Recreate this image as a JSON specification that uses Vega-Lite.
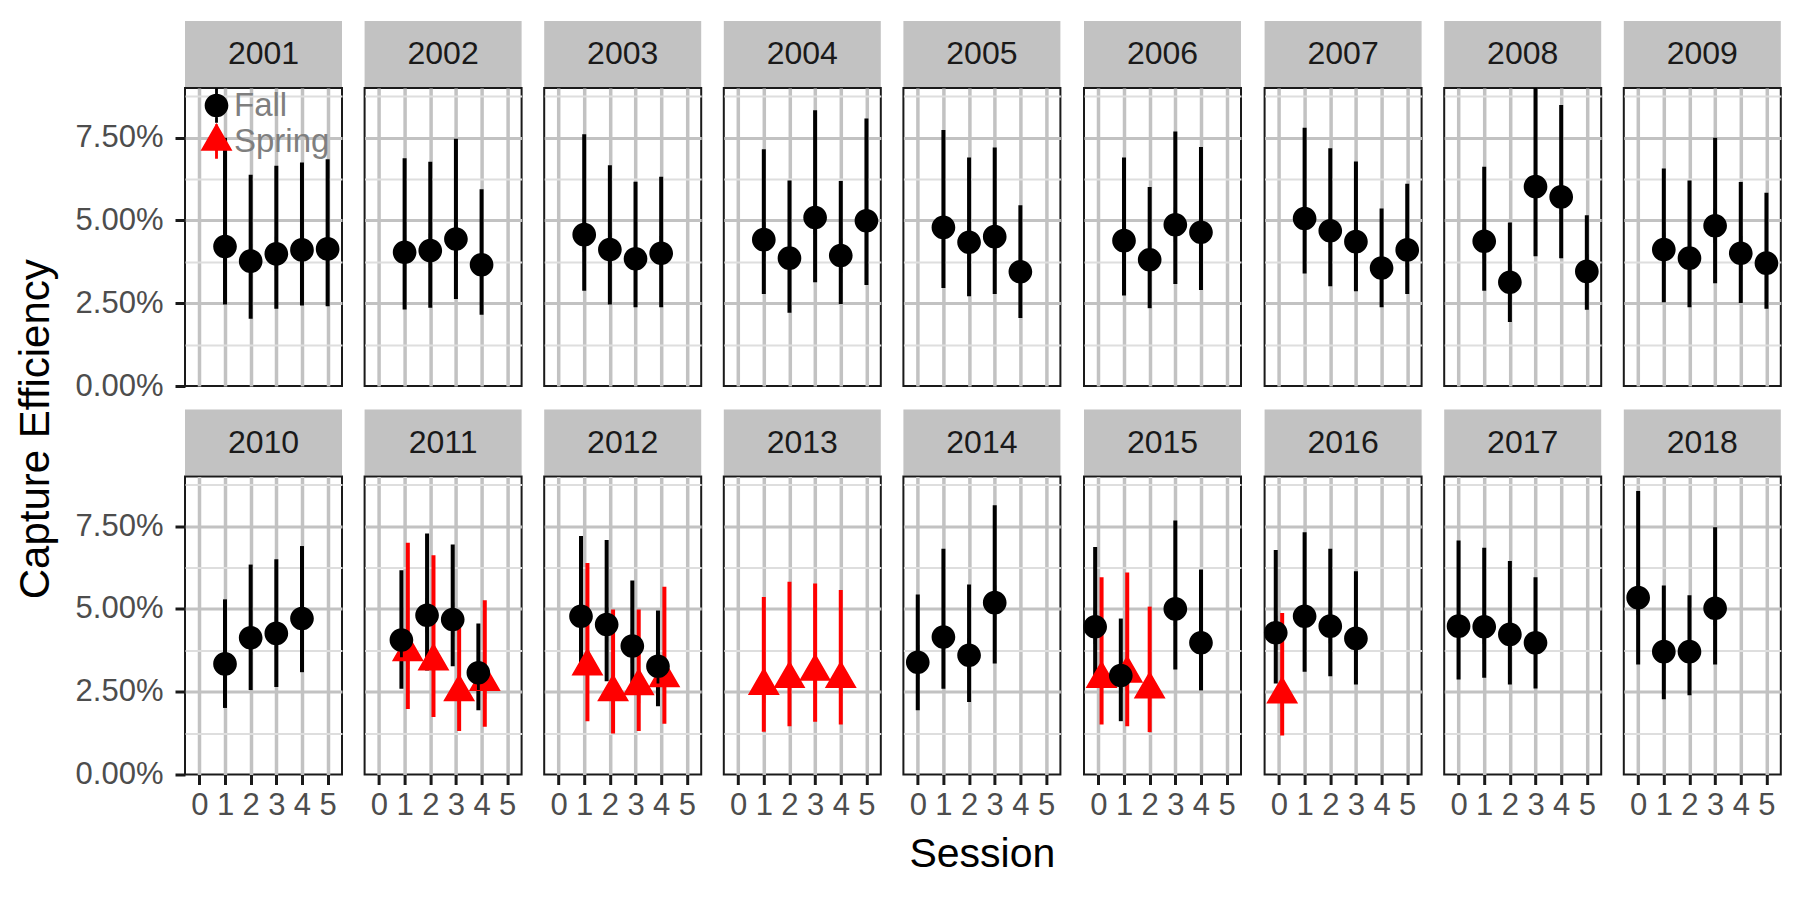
{
"$schema":"https://vega.github.io/schema/vega-lite/v6.json",
"padding":{"left":15,"top":21,"right":5,"bottom":5},
"background":"white",
"title":{"text":"Capture Efficiency","orient":"left","anchor":"middle","fontSize":42,"fontWeight":"normal","color":"#000000","font":"Liberation Sans","offset":16,"dx":19},
"config":{"font":"Liberation Sans","view":{"stroke":"#1A1A1A","strokeWidth":2},"axis":{"labelFont":"Liberation Sans","titleFont":"Liberation Sans"},"legend":{"labelFont":"Liberation Sans"}},
"datasets":{
"years":[{"year":2001},{"year":2002},{"year":2003},{"year":2004},{"year":2005},{"year":2006},{"year":2007},{"year":2008},{"year":2009},{"year":2010},{"year":2011},{"year":2012},{"year":2013},{"year":2014},{"year":2015},{"year":2016},{"year":2017},{"year":2018}],
"est":[
{"year":2001,"session":1,"season":"Fall","est":0.0421,"lo":0.0246,"hi":0.075},
{"year":2001,"session":2,"season":"Fall","est":0.0377,"lo":0.0203,"hi":0.0638},
{"year":2001,"session":3,"season":"Fall","est":0.0399,"lo":0.0233,"hi":0.0665},
{"year":2001,"session":4,"season":"Fall","est":0.0411,"lo":0.0243,"hi":0.0675},
{"year":2001,"session":5,"season":"Fall","est":0.0414,"lo":0.0241,"hi":0.0685},
{"year":2002,"session":1,"season":"Fall","est":0.0404,"lo":0.0231,"hi":0.0688},
{"year":2002,"session":2,"season":"Fall","est":0.0409,"lo":0.0236,"hi":0.0677},
{"year":2002,"session":3,"season":"Fall","est":0.0444,"lo":0.0263,"hi":0.0747},
{"year":2002,"session":4,"season":"Fall","est":0.0366,"lo":0.0215,"hi":0.0594},
{"year":2003,"session":1,"season":"Fall","est":0.0457,"lo":0.0288,"hi":0.076},
{"year":2003,"session":2,"season":"Fall","est":0.0412,"lo":0.0246,"hi":0.0667},
{"year":2003,"session":3,"season":"Fall","est":0.0384,"lo":0.0238,"hi":0.0617},
{"year":2003,"session":4,"season":"Fall","est":0.0401,"lo":0.0238,"hi":0.0632},
{"year":2004,"session":1,"season":"Fall","est":0.0442,"lo":0.0278,"hi":0.0715},
{"year":2004,"session":2,"season":"Fall","est":0.0386,"lo":0.0221,"hi":0.0621},
{"year":2004,"session":3,"season":"Fall","est":0.0509,"lo":0.0313,"hi":0.0833},
{"year":2004,"session":4,"season":"Fall","est":0.0394,"lo":0.0248,"hi":0.0619},
{"year":2004,"session":5,"season":"Fall","est":0.0499,"lo":0.0305,"hi":0.0808},
{"year":2005,"session":1,"season":"Fall","est":0.0479,"lo":0.0296,"hi":0.0773},
{"year":2005,"session":2,"season":"Fall","est":0.0434,"lo":0.0271,"hi":0.069},
{"year":2005,"session":3,"season":"Fall","est":0.0451,"lo":0.0278,"hi":0.072},
{"year":2005,"session":4,"season":"Fall","est":0.0345,"lo":0.0205,"hi":0.0546},
{"year":2006,"session":1,"season":"Fall","est":0.0439,"lo":0.0273,"hi":0.069},
{"year":2006,"session":2,"season":"Fall","est":0.0381,"lo":0.0235,"hi":0.0601},
{"year":2006,"session":3,"season":"Fall","est":0.0487,"lo":0.0308,"hi":0.0769},
{"year":2006,"session":4,"season":"Fall","est":0.0464,"lo":0.029,"hi":0.0722},
{"year":2007,"session":1,"season":"Fall","est":0.0506,"lo":0.034,"hi":0.078},
{"year":2007,"session":2,"season":"Fall","est":0.0469,"lo":0.0301,"hi":0.0718},
{"year":2007,"session":3,"season":"Fall","est":0.0436,"lo":0.0286,"hi":0.0678},
{"year":2007,"session":4,"season":"Fall","est":0.0356,"lo":0.0238,"hi":0.0536},
{"year":2007,"session":5,"season":"Fall","est":0.0411,"lo":0.0278,"hi":0.0611},
{"year":2008,"session":1,"season":"Fall","est":0.0437,"lo":0.0288,"hi":0.0662},
{"year":2008,"session":2,"season":"Fall","est":0.0313,"lo":0.0193,"hi":0.0494},
{"year":2008,"session":3,"season":"Fall","est":0.0602,"lo":0.0392,"hi":0.092},
{"year":2008,"session":4,"season":"Fall","est":0.0571,"lo":0.0386,"hi":0.0849},
{"year":2008,"session":5,"season":"Fall","est":0.0346,"lo":0.023,"hi":0.0516},
{"year":2009,"session":1,"season":"Fall","est":0.0412,"lo":0.0253,"hi":0.0657},
{"year":2009,"session":2,"season":"Fall","est":0.0386,"lo":0.0238,"hi":0.0621},
{"year":2009,"session":3,"season":"Fall","est":0.0484,"lo":0.031,"hi":0.075},
{"year":2009,"session":4,"season":"Fall","est":0.0401,"lo":0.0251,"hi":0.0616},
{"year":2009,"session":5,"season":"Fall","est":0.0371,"lo":0.0233,"hi":0.0584},
{"year":2010,"session":1,"season":"Fall","est":0.0334,"lo":0.0201,"hi":0.0529},
{"year":2010,"session":2,"season":"Fall","est":0.0413,"lo":0.0255,"hi":0.0634},
{"year":2010,"session":3,"season":"Fall","est":0.0426,"lo":0.0264,"hi":0.065},
{"year":2010,"session":4,"season":"Fall","est":0.0471,"lo":0.0309,"hi":0.069},
{"year":2011,"session":1,"season":"Spring","est":0.037,"lo":0.0198,"hi":0.07},
{"year":2011,"session":2,"season":"Spring","est":0.0342,"lo":0.0174,"hi":0.0662},
{"year":2011,"session":3,"season":"Spring","est":0.0249,"lo":0.0131,"hi":0.0445},
{"year":2011,"session":4,"season":"Spring","est":0.028,"lo":0.0144,"hi":0.0526},
{"year":2011,"session":1,"season":"Fall","est":0.0406,"lo":0.0259,"hi":0.0617},
{"year":2011,"session":2,"season":"Fall","est":0.0481,"lo":0.0314,"hi":0.0728},
{"year":2011,"session":3,"season":"Fall","est":0.0468,"lo":0.0327,"hi":0.0695},
{"year":2011,"session":4,"season":"Fall","est":0.0307,"lo":0.0194,"hi":0.0456},
{"year":2012,"session":1,"season":"Spring","est":0.0327,"lo":0.0161,"hi":0.0639},
{"year":2012,"session":2,"season":"Spring","est":0.0249,"lo":0.0124,"hi":0.0498},
{"year":2012,"session":3,"season":"Spring","est":0.0267,"lo":0.0131,"hi":0.0498},
{"year":2012,"session":4,"season":"Spring","est":0.0291,"lo":0.0153,"hi":0.0567},
{"year":2012,"session":1,"season":"Fall","est":0.0478,"lo":0.0315,"hi":0.072},
{"year":2012,"session":2,"season":"Fall","est":0.0453,"lo":0.0282,"hi":0.0708},
{"year":2012,"session":3,"season":"Fall","est":0.0388,"lo":0.0255,"hi":0.0586},
{"year":2012,"session":4,"season":"Fall","est":0.0327,"lo":0.0206,"hi":0.0495},
{"year":2013,"session":1,"season":"Spring","est":0.0268,"lo":0.0129,"hi":0.0536},
{"year":2013,"session":2,"season":"Spring","est":0.0289,"lo":0.0146,"hi":0.0582},
{"year":2013,"session":3,"season":"Spring","est":0.0311,"lo":0.0159,"hi":0.0577},
{"year":2013,"session":4,"season":"Spring","est":0.0289,"lo":0.0151,"hi":0.0557},
{"year":2014,"session":0,"season":"Fall","est":0.0339,"lo":0.0194,"hi":0.0544},
{"year":2014,"session":1,"season":"Fall","est":0.0415,"lo":0.0259,"hi":0.0682},
{"year":2014,"session":2,"season":"Fall","est":0.036,"lo":0.0219,"hi":0.0574},
{"year":2014,"session":3,"season":"Fall","est":0.0519,"lo":0.0335,"hi":0.0813},
{"year":2015,"session":0,"season":"Spring","est":0.0289,"lo":0.0151,"hi":0.0596},
{"year":2015,"session":1,"season":"Spring","est":0.0305,"lo":0.0146,"hi":0.061},
{"year":2015,"session":2,"season":"Spring","est":0.0257,"lo":0.0128,"hi":0.0507},
{"year":2015,"session":0,"season":"Fall","est":0.0446,"lo":0.0275,"hi":0.0687},
{"year":2015,"session":1,"season":"Fall","est":0.0299,"lo":0.0161,"hi":0.0471},
{"year":2015,"session":3,"season":"Fall","est":0.05,"lo":0.0317,"hi":0.0767},
{"year":2015,"session":4,"season":"Fall","est":0.0398,"lo":0.0254,"hi":0.0619},
{"year":2016,"session":0,"season":"Spring","est":0.0242,"lo":0.0118,"hi":0.0488},
{"year":2016,"session":0,"season":"Fall","est":0.0428,"lo":0.0275,"hi":0.0678},
{"year":2016,"session":1,"season":"Fall","est":0.0478,"lo":0.031,"hi":0.0732},
{"year":2016,"session":2,"season":"Fall","est":0.0448,"lo":0.0297,"hi":0.0682},
{"year":2016,"session":3,"season":"Fall","est":0.0411,"lo":0.0272,"hi":0.0614},
{"year":2017,"session":0,"season":"Fall","est":0.0448,"lo":0.0287,"hi":0.0707},
{"year":2017,"session":1,"season":"Fall","est":0.0446,"lo":0.0292,"hi":0.0685},
{"year":2017,"session":2,"season":"Fall","est":0.0423,"lo":0.0272,"hi":0.0645},
{"year":2017,"session":3,"season":"Fall","est":0.0398,"lo":0.026,"hi":0.0596},
{"year":2018,"session":0,"season":"Fall","est":0.0534,"lo":0.0332,"hi":0.0856},
{"year":2018,"session":1,"season":"Fall","est":0.0371,"lo":0.0227,"hi":0.0571},
{"year":2018,"session":2,"season":"Fall","est":0.0371,"lo":0.0239,"hi":0.0541},
{"year":2018,"session":3,"season":"Fall","est":0.0502,"lo":0.0332,"hi":0.0747}
]},
"concat":[
{"vconcat":[{"width":157,"height":66,"data":{"name":"years"},"transform":[{"filter":"datum.year==2001"}],"mark":{"type":"text","fontSize":32,"color":"#1A1A1A"},"encoding":{"text":{"field":"year","type":"nominal"}},"view":{"fill":"#C2C2C2"}},
{"width":157,"height":298,"data":{"name":"est"},"transform":[{"filter":"datum.year==2001"},{"joinaggregate":[{"op":"count","as":"n"}],"groupby":["session"]},{"calculate":"datum.session+(datum.n>1?(datum.season=='Fall'?-0.125:0.125):0)","as":"xpos"}],
"encoding":{"x":{"field":"xpos","type":"quantitative","scale":{"domain":[-0.56,5.56]},"axis":{"values":[0,1,2,3,4,5],"labels":false,"ticks":false,"title":null,"domain":false,"gridColor":"#C2C2C2","gridWidth":3.5}}},
"layer":[{"mark":{"type":"rule","strokeWidth":4,"clip":true},"encoding":{"y":{"field":"lo","type":"quantitative","scale":{"domain":[0,0.09]},"axis":{"values":[0,0.0125,0.025,0.0375,0.05,0.0625,0.075,0.0875],"format":".2%","labelExpr":"round(datum.value*1000)%25==0 ? datum.label : ''","title":null,"domain":false,"tickSize":10,"tickWidth":3,"tickColor":{"condition":{"test":"round(datum.value*1000)%25==0","value":"#1A1A1A"},"value":"rgba(0,0,0,0)"},"labelFontSize":31,"labelColor":"#4D4D4D","labelPadding":12,"labelOverlap":false,"labelFlush":false,"gridColor":{"condition":{"test":"round(datum.value*1000)%25==0","value":"#C2C2C2"},"value":"#DEDEDE"},"gridWidth":{"condition":{"test":"round(datum.value*1000)%25==0","value":3},"value":2},"gridOpacity":{"condition":{"test":"datum.value==0","value":0},"value":1}}},"y2":{"field":"hi"},"stroke":{"field":"season","type":"nominal","scale":{"domain":["Fall","Spring"],"range":["#000000","#FF0000"]},"legend":null}}},
{"mark":{"type":"point","filled":true,"size":560,"opacity":1},"encoding":{"y":{"field":"est","type":"quantitative","scale":{"domain":[0,0.09]},"axis":{"values":[0,0.0125,0.025,0.0375,0.05,0.0625,0.075,0.0875],"format":".2%","labelExpr":"round(datum.value*1000)%25==0 ? datum.label : ''","title":null,"domain":false,"tickSize":10,"tickWidth":3,"tickColor":{"condition":{"test":"round(datum.value*1000)%25==0","value":"#1A1A1A"},"value":"rgba(0,0,0,0)"},"labelFontSize":31,"labelColor":"#4D4D4D","labelPadding":12,"labelOverlap":false,"labelFlush":false,"gridColor":{"condition":{"test":"round(datum.value*1000)%25==0","value":"#C2C2C2"},"value":"#DEDEDE"},"gridWidth":{"condition":{"test":"round(datum.value*1000)%25==0","value":3},"value":2},"gridOpacity":{"condition":{"test":"datum.value==0","value":0},"value":1}}},"color":{"field":"season","type":"nominal","scale":{"domain":["Fall","Spring"],"range":["#000000","#FF0000"]},"legend":{"orient":"none","legendX":15,"legendY":1,"title":null,"labelFontSize":33,"labelColor":"#7F7F7F","symbolSize":560,"labelOffset":1,"rowPadding":0,"padding":0,"symbolStrokeWidth":0,"symbolOpacity":1}},"shape":{"field":"season","type":"nominal","scale":{"domain":["Fall","Spring"],"range":["M1,0A1,1,0,1,1,-1,0A1,1,0,1,1,1,0Z M-0.12,-1.45L0.12,-1.45L0.12,1.45L-0.12,1.45Z","M0,-1.555L1.347,0.778L-1.347,0.778Z M-0.12,-1.45L0.12,-1.45L0.12,1.45L-0.12,1.45Z"]},"legend":{"orient":"none","legendX":15,"legendY":1,"title":null,"labelFontSize":33,"labelColor":"#7F7F7F","symbolSize":560,"labelOffset":1,"rowPadding":0,"padding":0,"symbolStrokeWidth":0,"symbolOpacity":1}}}}]}],
"spacing":1,"bounds":"flush","resolve":{"legend":{"color":"independent","shape":"independent"}}},

{"vconcat":[{"width":157,"height":66,"data":{"name":"years"},"transform":[{"filter":"datum.year==2002"}],"mark":{"type":"text","fontSize":32,"color":"#1A1A1A"},"encoding":{"text":{"field":"year","type":"nominal"}},"view":{"fill":"#C2C2C2"}},
{"width":157,"height":298,"data":{"name":"est"},"transform":[{"filter":"datum.year==2002"},{"joinaggregate":[{"op":"count","as":"n"}],"groupby":["session"]},{"calculate":"datum.session+(datum.n>1?(datum.season=='Fall'?-0.125:0.125):0)","as":"xpos"}],
"encoding":{"x":{"field":"xpos","type":"quantitative","scale":{"domain":[-0.56,5.56]},"axis":{"values":[0,1,2,3,4,5],"labels":false,"ticks":false,"title":null,"domain":false,"gridColor":"#C2C2C2","gridWidth":3.5}}},
"layer":[{"mark":{"type":"rule","strokeWidth":4,"clip":true},"encoding":{"y":{"field":"lo","type":"quantitative","scale":{"domain":[0,0.09]},"axis":{"values":[0,0.0125,0.025,0.0375,0.05,0.0625,0.075,0.0875],"labels":false,"ticks":false,"title":null,"domain":false,"gridColor":{"condition":{"test":"round(datum.value*1000)%25==0","value":"#C2C2C2"},"value":"#DEDEDE"},"gridWidth":{"condition":{"test":"round(datum.value*1000)%25==0","value":3},"value":2},"gridOpacity":{"condition":{"test":"datum.value==0","value":0},"value":1}}},"y2":{"field":"hi"},"stroke":{"field":"season","type":"nominal","scale":{"domain":["Fall","Spring"],"range":["#000000","#FF0000"]},"legend":null}}},
{"mark":{"type":"point","filled":true,"size":560,"opacity":1},"encoding":{"y":{"field":"est","type":"quantitative","scale":{"domain":[0,0.09]},"axis":{"values":[0,0.0125,0.025,0.0375,0.05,0.0625,0.075,0.0875],"labels":false,"ticks":false,"title":null,"domain":false,"gridColor":{"condition":{"test":"round(datum.value*1000)%25==0","value":"#C2C2C2"},"value":"#DEDEDE"},"gridWidth":{"condition":{"test":"round(datum.value*1000)%25==0","value":3},"value":2},"gridOpacity":{"condition":{"test":"datum.value==0","value":0},"value":1}}},"color":{"field":"season","type":"nominal","scale":{"domain":["Fall","Spring"],"range":["#000000","#FF0000"]},"legend":null},"shape":{"field":"season","type":"nominal","scale":{"domain":["Fall","Spring"],"range":["M1,0A1,1,0,1,1,-1,0A1,1,0,1,1,1,0Z M-0.12,-1.45L0.12,-1.45L0.12,1.45L-0.12,1.45Z","M0,-1.555L1.347,0.778L-1.347,0.778Z M-0.12,-1.45L0.12,-1.45L0.12,1.45L-0.12,1.45Z"]},"legend":null}}}]}],
"spacing":1,"bounds":"flush"},

{"vconcat":[{"width":157,"height":66,"data":{"name":"years"},"transform":[{"filter":"datum.year==2003"}],"mark":{"type":"text","fontSize":32,"color":"#1A1A1A"},"encoding":{"text":{"field":"year","type":"nominal"}},"view":{"fill":"#C2C2C2"}},
{"width":157,"height":298,"data":{"name":"est"},"transform":[{"filter":"datum.year==2003"},{"joinaggregate":[{"op":"count","as":"n"}],"groupby":["session"]},{"calculate":"datum.session+(datum.n>1?(datum.season=='Fall'?-0.125:0.125):0)","as":"xpos"}],
"encoding":{"x":{"field":"xpos","type":"quantitative","scale":{"domain":[-0.56,5.56]},"axis":{"values":[0,1,2,3,4,5],"labels":false,"ticks":false,"title":null,"domain":false,"gridColor":"#C2C2C2","gridWidth":3.5}}},
"layer":[{"mark":{"type":"rule","strokeWidth":4,"clip":true},"encoding":{"y":{"field":"lo","type":"quantitative","scale":{"domain":[0,0.09]},"axis":{"values":[0,0.0125,0.025,0.0375,0.05,0.0625,0.075,0.0875],"labels":false,"ticks":false,"title":null,"domain":false,"gridColor":{"condition":{"test":"round(datum.value*1000)%25==0","value":"#C2C2C2"},"value":"#DEDEDE"},"gridWidth":{"condition":{"test":"round(datum.value*1000)%25==0","value":3},"value":2},"gridOpacity":{"condition":{"test":"datum.value==0","value":0},"value":1}}},"y2":{"field":"hi"},"stroke":{"field":"season","type":"nominal","scale":{"domain":["Fall","Spring"],"range":["#000000","#FF0000"]},"legend":null}}},
{"mark":{"type":"point","filled":true,"size":560,"opacity":1},"encoding":{"y":{"field":"est","type":"quantitative","scale":{"domain":[0,0.09]},"axis":{"values":[0,0.0125,0.025,0.0375,0.05,0.0625,0.075,0.0875],"labels":false,"ticks":false,"title":null,"domain":false,"gridColor":{"condition":{"test":"round(datum.value*1000)%25==0","value":"#C2C2C2"},"value":"#DEDEDE"},"gridWidth":{"condition":{"test":"round(datum.value*1000)%25==0","value":3},"value":2},"gridOpacity":{"condition":{"test":"datum.value==0","value":0},"value":1}}},"color":{"field":"season","type":"nominal","scale":{"domain":["Fall","Spring"],"range":["#000000","#FF0000"]},"legend":null},"shape":{"field":"season","type":"nominal","scale":{"domain":["Fall","Spring"],"range":["M1,0A1,1,0,1,1,-1,0A1,1,0,1,1,1,0Z M-0.12,-1.45L0.12,-1.45L0.12,1.45L-0.12,1.45Z","M0,-1.555L1.347,0.778L-1.347,0.778Z M-0.12,-1.45L0.12,-1.45L0.12,1.45L-0.12,1.45Z"]},"legend":null}}}]}],
"spacing":1,"bounds":"flush"},

{"vconcat":[{"width":157,"height":66,"data":{"name":"years"},"transform":[{"filter":"datum.year==2004"}],"mark":{"type":"text","fontSize":32,"color":"#1A1A1A"},"encoding":{"text":{"field":"year","type":"nominal"}},"view":{"fill":"#C2C2C2"}},
{"width":157,"height":298,"data":{"name":"est"},"transform":[{"filter":"datum.year==2004"},{"joinaggregate":[{"op":"count","as":"n"}],"groupby":["session"]},{"calculate":"datum.session+(datum.n>1?(datum.season=='Fall'?-0.125:0.125):0)","as":"xpos"}],
"encoding":{"x":{"field":"xpos","type":"quantitative","scale":{"domain":[-0.56,5.56]},"axis":{"values":[0,1,2,3,4,5],"labels":false,"ticks":false,"title":null,"domain":false,"gridColor":"#C2C2C2","gridWidth":3.5}}},
"layer":[{"mark":{"type":"rule","strokeWidth":4,"clip":true},"encoding":{"y":{"field":"lo","type":"quantitative","scale":{"domain":[0,0.09]},"axis":{"values":[0,0.0125,0.025,0.0375,0.05,0.0625,0.075,0.0875],"labels":false,"ticks":false,"title":null,"domain":false,"gridColor":{"condition":{"test":"round(datum.value*1000)%25==0","value":"#C2C2C2"},"value":"#DEDEDE"},"gridWidth":{"condition":{"test":"round(datum.value*1000)%25==0","value":3},"value":2},"gridOpacity":{"condition":{"test":"datum.value==0","value":0},"value":1}}},"y2":{"field":"hi"},"stroke":{"field":"season","type":"nominal","scale":{"domain":["Fall","Spring"],"range":["#000000","#FF0000"]},"legend":null}}},
{"mark":{"type":"point","filled":true,"size":560,"opacity":1},"encoding":{"y":{"field":"est","type":"quantitative","scale":{"domain":[0,0.09]},"axis":{"values":[0,0.0125,0.025,0.0375,0.05,0.0625,0.075,0.0875],"labels":false,"ticks":false,"title":null,"domain":false,"gridColor":{"condition":{"test":"round(datum.value*1000)%25==0","value":"#C2C2C2"},"value":"#DEDEDE"},"gridWidth":{"condition":{"test":"round(datum.value*1000)%25==0","value":3},"value":2},"gridOpacity":{"condition":{"test":"datum.value==0","value":0},"value":1}}},"color":{"field":"season","type":"nominal","scale":{"domain":["Fall","Spring"],"range":["#000000","#FF0000"]},"legend":null},"shape":{"field":"season","type":"nominal","scale":{"domain":["Fall","Spring"],"range":["M1,0A1,1,0,1,1,-1,0A1,1,0,1,1,1,0Z M-0.12,-1.45L0.12,-1.45L0.12,1.45L-0.12,1.45Z","M0,-1.555L1.347,0.778L-1.347,0.778Z M-0.12,-1.45L0.12,-1.45L0.12,1.45L-0.12,1.45Z"]},"legend":null}}}]}],
"spacing":1,"bounds":"flush"},

{"vconcat":[{"width":157,"height":66,"data":{"name":"years"},"transform":[{"filter":"datum.year==2005"}],"mark":{"type":"text","fontSize":32,"color":"#1A1A1A"},"encoding":{"text":{"field":"year","type":"nominal"}},"view":{"fill":"#C2C2C2"}},
{"width":157,"height":298,"data":{"name":"est"},"transform":[{"filter":"datum.year==2005"},{"joinaggregate":[{"op":"count","as":"n"}],"groupby":["session"]},{"calculate":"datum.session+(datum.n>1?(datum.season=='Fall'?-0.125:0.125):0)","as":"xpos"}],
"encoding":{"x":{"field":"xpos","type":"quantitative","scale":{"domain":[-0.56,5.56]},"axis":{"values":[0,1,2,3,4,5],"labels":false,"ticks":false,"title":null,"domain":false,"gridColor":"#C2C2C2","gridWidth":3.5}}},
"layer":[{"mark":{"type":"rule","strokeWidth":4,"clip":true},"encoding":{"y":{"field":"lo","type":"quantitative","scale":{"domain":[0,0.09]},"axis":{"values":[0,0.0125,0.025,0.0375,0.05,0.0625,0.075,0.0875],"labels":false,"ticks":false,"title":null,"domain":false,"gridColor":{"condition":{"test":"round(datum.value*1000)%25==0","value":"#C2C2C2"},"value":"#DEDEDE"},"gridWidth":{"condition":{"test":"round(datum.value*1000)%25==0","value":3},"value":2},"gridOpacity":{"condition":{"test":"datum.value==0","value":0},"value":1}}},"y2":{"field":"hi"},"stroke":{"field":"season","type":"nominal","scale":{"domain":["Fall","Spring"],"range":["#000000","#FF0000"]},"legend":null}}},
{"mark":{"type":"point","filled":true,"size":560,"opacity":1},"encoding":{"y":{"field":"est","type":"quantitative","scale":{"domain":[0,0.09]},"axis":{"values":[0,0.0125,0.025,0.0375,0.05,0.0625,0.075,0.0875],"labels":false,"ticks":false,"title":null,"domain":false,"gridColor":{"condition":{"test":"round(datum.value*1000)%25==0","value":"#C2C2C2"},"value":"#DEDEDE"},"gridWidth":{"condition":{"test":"round(datum.value*1000)%25==0","value":3},"value":2},"gridOpacity":{"condition":{"test":"datum.value==0","value":0},"value":1}}},"color":{"field":"season","type":"nominal","scale":{"domain":["Fall","Spring"],"range":["#000000","#FF0000"]},"legend":null},"shape":{"field":"season","type":"nominal","scale":{"domain":["Fall","Spring"],"range":["M1,0A1,1,0,1,1,-1,0A1,1,0,1,1,1,0Z M-0.12,-1.45L0.12,-1.45L0.12,1.45L-0.12,1.45Z","M0,-1.555L1.347,0.778L-1.347,0.778Z M-0.12,-1.45L0.12,-1.45L0.12,1.45L-0.12,1.45Z"]},"legend":null}}}]}],
"spacing":1,"bounds":"flush"},

{"vconcat":[{"width":157,"height":66,"data":{"name":"years"},"transform":[{"filter":"datum.year==2006"}],"mark":{"type":"text","fontSize":32,"color":"#1A1A1A"},"encoding":{"text":{"field":"year","type":"nominal"}},"view":{"fill":"#C2C2C2"}},
{"width":157,"height":298,"data":{"name":"est"},"transform":[{"filter":"datum.year==2006"},{"joinaggregate":[{"op":"count","as":"n"}],"groupby":["session"]},{"calculate":"datum.session+(datum.n>1?(datum.season=='Fall'?-0.125:0.125):0)","as":"xpos"}],
"encoding":{"x":{"field":"xpos","type":"quantitative","scale":{"domain":[-0.56,5.56]},"axis":{"values":[0,1,2,3,4,5],"labels":false,"ticks":false,"title":null,"domain":false,"gridColor":"#C2C2C2","gridWidth":3.5}}},
"layer":[{"mark":{"type":"rule","strokeWidth":4,"clip":true},"encoding":{"y":{"field":"lo","type":"quantitative","scale":{"domain":[0,0.09]},"axis":{"values":[0,0.0125,0.025,0.0375,0.05,0.0625,0.075,0.0875],"labels":false,"ticks":false,"title":null,"domain":false,"gridColor":{"condition":{"test":"round(datum.value*1000)%25==0","value":"#C2C2C2"},"value":"#DEDEDE"},"gridWidth":{"condition":{"test":"round(datum.value*1000)%25==0","value":3},"value":2},"gridOpacity":{"condition":{"test":"datum.value==0","value":0},"value":1}}},"y2":{"field":"hi"},"stroke":{"field":"season","type":"nominal","scale":{"domain":["Fall","Spring"],"range":["#000000","#FF0000"]},"legend":null}}},
{"mark":{"type":"point","filled":true,"size":560,"opacity":1},"encoding":{"y":{"field":"est","type":"quantitative","scale":{"domain":[0,0.09]},"axis":{"values":[0,0.0125,0.025,0.0375,0.05,0.0625,0.075,0.0875],"labels":false,"ticks":false,"title":null,"domain":false,"gridColor":{"condition":{"test":"round(datum.value*1000)%25==0","value":"#C2C2C2"},"value":"#DEDEDE"},"gridWidth":{"condition":{"test":"round(datum.value*1000)%25==0","value":3},"value":2},"gridOpacity":{"condition":{"test":"datum.value==0","value":0},"value":1}}},"color":{"field":"season","type":"nominal","scale":{"domain":["Fall","Spring"],"range":["#000000","#FF0000"]},"legend":null},"shape":{"field":"season","type":"nominal","scale":{"domain":["Fall","Spring"],"range":["M1,0A1,1,0,1,1,-1,0A1,1,0,1,1,1,0Z M-0.12,-1.45L0.12,-1.45L0.12,1.45L-0.12,1.45Z","M0,-1.555L1.347,0.778L-1.347,0.778Z M-0.12,-1.45L0.12,-1.45L0.12,1.45L-0.12,1.45Z"]},"legend":null}}}]}],
"spacing":1,"bounds":"flush"},

{"vconcat":[{"width":157,"height":66,"data":{"name":"years"},"transform":[{"filter":"datum.year==2007"}],"mark":{"type":"text","fontSize":32,"color":"#1A1A1A"},"encoding":{"text":{"field":"year","type":"nominal"}},"view":{"fill":"#C2C2C2"}},
{"width":157,"height":298,"data":{"name":"est"},"transform":[{"filter":"datum.year==2007"},{"joinaggregate":[{"op":"count","as":"n"}],"groupby":["session"]},{"calculate":"datum.session+(datum.n>1?(datum.season=='Fall'?-0.125:0.125):0)","as":"xpos"}],
"encoding":{"x":{"field":"xpos","type":"quantitative","scale":{"domain":[-0.56,5.56]},"axis":{"values":[0,1,2,3,4,5],"labels":false,"ticks":false,"title":null,"domain":false,"gridColor":"#C2C2C2","gridWidth":3.5}}},
"layer":[{"mark":{"type":"rule","strokeWidth":4,"clip":true},"encoding":{"y":{"field":"lo","type":"quantitative","scale":{"domain":[0,0.09]},"axis":{"values":[0,0.0125,0.025,0.0375,0.05,0.0625,0.075,0.0875],"labels":false,"ticks":false,"title":null,"domain":false,"gridColor":{"condition":{"test":"round(datum.value*1000)%25==0","value":"#C2C2C2"},"value":"#DEDEDE"},"gridWidth":{"condition":{"test":"round(datum.value*1000)%25==0","value":3},"value":2},"gridOpacity":{"condition":{"test":"datum.value==0","value":0},"value":1}}},"y2":{"field":"hi"},"stroke":{"field":"season","type":"nominal","scale":{"domain":["Fall","Spring"],"range":["#000000","#FF0000"]},"legend":null}}},
{"mark":{"type":"point","filled":true,"size":560,"opacity":1},"encoding":{"y":{"field":"est","type":"quantitative","scale":{"domain":[0,0.09]},"axis":{"values":[0,0.0125,0.025,0.0375,0.05,0.0625,0.075,0.0875],"labels":false,"ticks":false,"title":null,"domain":false,"gridColor":{"condition":{"test":"round(datum.value*1000)%25==0","value":"#C2C2C2"},"value":"#DEDEDE"},"gridWidth":{"condition":{"test":"round(datum.value*1000)%25==0","value":3},"value":2},"gridOpacity":{"condition":{"test":"datum.value==0","value":0},"value":1}}},"color":{"field":"season","type":"nominal","scale":{"domain":["Fall","Spring"],"range":["#000000","#FF0000"]},"legend":null},"shape":{"field":"season","type":"nominal","scale":{"domain":["Fall","Spring"],"range":["M1,0A1,1,0,1,1,-1,0A1,1,0,1,1,1,0Z M-0.12,-1.45L0.12,-1.45L0.12,1.45L-0.12,1.45Z","M0,-1.555L1.347,0.778L-1.347,0.778Z M-0.12,-1.45L0.12,-1.45L0.12,1.45L-0.12,1.45Z"]},"legend":null}}}]}],
"spacing":1,"bounds":"flush"},

{"vconcat":[{"width":157,"height":66,"data":{"name":"years"},"transform":[{"filter":"datum.year==2008"}],"mark":{"type":"text","fontSize":32,"color":"#1A1A1A"},"encoding":{"text":{"field":"year","type":"nominal"}},"view":{"fill":"#C2C2C2"}},
{"width":157,"height":298,"data":{"name":"est"},"transform":[{"filter":"datum.year==2008"},{"joinaggregate":[{"op":"count","as":"n"}],"groupby":["session"]},{"calculate":"datum.session+(datum.n>1?(datum.season=='Fall'?-0.125:0.125):0)","as":"xpos"}],
"encoding":{"x":{"field":"xpos","type":"quantitative","scale":{"domain":[-0.56,5.56]},"axis":{"values":[0,1,2,3,4,5],"labels":false,"ticks":false,"title":null,"domain":false,"gridColor":"#C2C2C2","gridWidth":3.5}}},
"layer":[{"mark":{"type":"rule","strokeWidth":4,"clip":true},"encoding":{"y":{"field":"lo","type":"quantitative","scale":{"domain":[0,0.09]},"axis":{"values":[0,0.0125,0.025,0.0375,0.05,0.0625,0.075,0.0875],"labels":false,"ticks":false,"title":null,"domain":false,"gridColor":{"condition":{"test":"round(datum.value*1000)%25==0","value":"#C2C2C2"},"value":"#DEDEDE"},"gridWidth":{"condition":{"test":"round(datum.value*1000)%25==0","value":3},"value":2},"gridOpacity":{"condition":{"test":"datum.value==0","value":0},"value":1}}},"y2":{"field":"hi"},"stroke":{"field":"season","type":"nominal","scale":{"domain":["Fall","Spring"],"range":["#000000","#FF0000"]},"legend":null}}},
{"mark":{"type":"point","filled":true,"size":560,"opacity":1},"encoding":{"y":{"field":"est","type":"quantitative","scale":{"domain":[0,0.09]},"axis":{"values":[0,0.0125,0.025,0.0375,0.05,0.0625,0.075,0.0875],"labels":false,"ticks":false,"title":null,"domain":false,"gridColor":{"condition":{"test":"round(datum.value*1000)%25==0","value":"#C2C2C2"},"value":"#DEDEDE"},"gridWidth":{"condition":{"test":"round(datum.value*1000)%25==0","value":3},"value":2},"gridOpacity":{"condition":{"test":"datum.value==0","value":0},"value":1}}},"color":{"field":"season","type":"nominal","scale":{"domain":["Fall","Spring"],"range":["#000000","#FF0000"]},"legend":null},"shape":{"field":"season","type":"nominal","scale":{"domain":["Fall","Spring"],"range":["M1,0A1,1,0,1,1,-1,0A1,1,0,1,1,1,0Z M-0.12,-1.45L0.12,-1.45L0.12,1.45L-0.12,1.45Z","M0,-1.555L1.347,0.778L-1.347,0.778Z M-0.12,-1.45L0.12,-1.45L0.12,1.45L-0.12,1.45Z"]},"legend":null}}}]}],
"spacing":1,"bounds":"flush"},

{"vconcat":[{"width":157,"height":66,"data":{"name":"years"},"transform":[{"filter":"datum.year==2009"}],"mark":{"type":"text","fontSize":32,"color":"#1A1A1A"},"encoding":{"text":{"field":"year","type":"nominal"}},"view":{"fill":"#C2C2C2"}},
{"width":157,"height":298,"data":{"name":"est"},"transform":[{"filter":"datum.year==2009"},{"joinaggregate":[{"op":"count","as":"n"}],"groupby":["session"]},{"calculate":"datum.session+(datum.n>1?(datum.season=='Fall'?-0.125:0.125):0)","as":"xpos"}],
"encoding":{"x":{"field":"xpos","type":"quantitative","scale":{"domain":[-0.56,5.56]},"axis":{"values":[0,1,2,3,4,5],"labels":false,"ticks":false,"title":null,"domain":false,"gridColor":"#C2C2C2","gridWidth":3.5}}},
"layer":[{"mark":{"type":"rule","strokeWidth":4,"clip":true},"encoding":{"y":{"field":"lo","type":"quantitative","scale":{"domain":[0,0.09]},"axis":{"values":[0,0.0125,0.025,0.0375,0.05,0.0625,0.075,0.0875],"labels":false,"ticks":false,"title":null,"domain":false,"gridColor":{"condition":{"test":"round(datum.value*1000)%25==0","value":"#C2C2C2"},"value":"#DEDEDE"},"gridWidth":{"condition":{"test":"round(datum.value*1000)%25==0","value":3},"value":2},"gridOpacity":{"condition":{"test":"datum.value==0","value":0},"value":1}}},"y2":{"field":"hi"},"stroke":{"field":"season","type":"nominal","scale":{"domain":["Fall","Spring"],"range":["#000000","#FF0000"]},"legend":null}}},
{"mark":{"type":"point","filled":true,"size":560,"opacity":1},"encoding":{"y":{"field":"est","type":"quantitative","scale":{"domain":[0,0.09]},"axis":{"values":[0,0.0125,0.025,0.0375,0.05,0.0625,0.075,0.0875],"labels":false,"ticks":false,"title":null,"domain":false,"gridColor":{"condition":{"test":"round(datum.value*1000)%25==0","value":"#C2C2C2"},"value":"#DEDEDE"},"gridWidth":{"condition":{"test":"round(datum.value*1000)%25==0","value":3},"value":2},"gridOpacity":{"condition":{"test":"datum.value==0","value":0},"value":1}}},"color":{"field":"season","type":"nominal","scale":{"domain":["Fall","Spring"],"range":["#000000","#FF0000"]},"legend":null},"shape":{"field":"season","type":"nominal","scale":{"domain":["Fall","Spring"],"range":["M1,0A1,1,0,1,1,-1,0A1,1,0,1,1,1,0Z M-0.12,-1.45L0.12,-1.45L0.12,1.45L-0.12,1.45Z","M0,-1.555L1.347,0.778L-1.347,0.778Z M-0.12,-1.45L0.12,-1.45L0.12,1.45L-0.12,1.45Z"]},"legend":null}}}]}],
"spacing":1,"bounds":"flush"},

{"vconcat":[{"width":157,"height":66,"data":{"name":"years"},"transform":[{"filter":"datum.year==2010"}],"mark":{"type":"text","fontSize":32,"color":"#1A1A1A"},"encoding":{"text":{"field":"year","type":"nominal"}},"view":{"fill":"#C2C2C2"}},
{"width":157,"height":298,"data":{"name":"est"},"transform":[{"filter":"datum.year==2010"},{"joinaggregate":[{"op":"count","as":"n"}],"groupby":["session"]},{"calculate":"datum.session+(datum.n>1?(datum.season=='Fall'?-0.125:0.125):0)","as":"xpos"}],
"encoding":{"x":{"field":"xpos","type":"quantitative","scale":{"domain":[-0.56,5.56]},"axis":{"values":[0,1,2,3,4,5],"format":"d","title":null,"domain":false,"tickSize":10,"tickWidth":3,"tickColor":"#1A1A1A","labelFontSize":31,"labelColor":"#4D4D4D","labelPadding":6,"labelOverlap":false,"labelFlush":false,"gridColor":"#C2C2C2","gridWidth":3.5}}},
"layer":[{"mark":{"type":"rule","strokeWidth":4,"clip":true},"encoding":{"y":{"field":"lo","type":"quantitative","scale":{"domain":[0,0.09]},"axis":{"values":[0,0.0125,0.025,0.0375,0.05,0.0625,0.075,0.0875],"format":".2%","labelExpr":"round(datum.value*1000)%25==0 ? datum.label : ''","title":null,"domain":false,"tickSize":10,"tickWidth":3,"tickColor":{"condition":{"test":"round(datum.value*1000)%25==0","value":"#1A1A1A"},"value":"rgba(0,0,0,0)"},"labelFontSize":31,"labelColor":"#4D4D4D","labelPadding":12,"labelOverlap":false,"labelFlush":false,"gridColor":{"condition":{"test":"round(datum.value*1000)%25==0","value":"#C2C2C2"},"value":"#DEDEDE"},"gridWidth":{"condition":{"test":"round(datum.value*1000)%25==0","value":3},"value":2},"gridOpacity":{"condition":{"test":"datum.value==0","value":0},"value":1}}},"y2":{"field":"hi"},"stroke":{"field":"season","type":"nominal","scale":{"domain":["Fall","Spring"],"range":["#000000","#FF0000"]},"legend":null}}},
{"mark":{"type":"point","filled":true,"size":560,"opacity":1},"encoding":{"y":{"field":"est","type":"quantitative","scale":{"domain":[0,0.09]},"axis":{"values":[0,0.0125,0.025,0.0375,0.05,0.0625,0.075,0.0875],"format":".2%","labelExpr":"round(datum.value*1000)%25==0 ? datum.label : ''","title":null,"domain":false,"tickSize":10,"tickWidth":3,"tickColor":{"condition":{"test":"round(datum.value*1000)%25==0","value":"#1A1A1A"},"value":"rgba(0,0,0,0)"},"labelFontSize":31,"labelColor":"#4D4D4D","labelPadding":12,"labelOverlap":false,"labelFlush":false,"gridColor":{"condition":{"test":"round(datum.value*1000)%25==0","value":"#C2C2C2"},"value":"#DEDEDE"},"gridWidth":{"condition":{"test":"round(datum.value*1000)%25==0","value":3},"value":2},"gridOpacity":{"condition":{"test":"datum.value==0","value":0},"value":1}}},"color":{"field":"season","type":"nominal","scale":{"domain":["Fall","Spring"],"range":["#000000","#FF0000"]},"legend":null},"shape":{"field":"season","type":"nominal","scale":{"domain":["Fall","Spring"],"range":["M1,0A1,1,0,1,1,-1,0A1,1,0,1,1,1,0Z M-0.12,-1.45L0.12,-1.45L0.12,1.45L-0.12,1.45Z","M0,-1.555L1.347,0.778L-1.347,0.778Z M-0.12,-1.45L0.12,-1.45L0.12,1.45L-0.12,1.45Z"]},"legend":null}}}]}],
"spacing":1,"bounds":"flush"},

{"vconcat":[{"width":157,"height":66,"data":{"name":"years"},"transform":[{"filter":"datum.year==2011"}],"mark":{"type":"text","fontSize":32,"color":"#1A1A1A"},"encoding":{"text":{"field":"year","type":"nominal"}},"view":{"fill":"#C2C2C2"}},
{"width":157,"height":298,"data":{"name":"est"},"transform":[{"filter":"datum.year==2011"},{"joinaggregate":[{"op":"count","as":"n"}],"groupby":["session"]},{"calculate":"datum.session+(datum.n>1?(datum.season=='Fall'?-0.125:0.125):0)","as":"xpos"}],
"encoding":{"x":{"field":"xpos","type":"quantitative","scale":{"domain":[-0.56,5.56]},"axis":{"values":[0,1,2,3,4,5],"format":"d","title":null,"domain":false,"tickSize":10,"tickWidth":3,"tickColor":"#1A1A1A","labelFontSize":31,"labelColor":"#4D4D4D","labelPadding":6,"labelOverlap":false,"labelFlush":false,"gridColor":"#C2C2C2","gridWidth":3.5}}},
"layer":[{"mark":{"type":"rule","strokeWidth":4,"clip":true},"encoding":{"y":{"field":"lo","type":"quantitative","scale":{"domain":[0,0.09]},"axis":{"values":[0,0.0125,0.025,0.0375,0.05,0.0625,0.075,0.0875],"labels":false,"ticks":false,"title":null,"domain":false,"gridColor":{"condition":{"test":"round(datum.value*1000)%25==0","value":"#C2C2C2"},"value":"#DEDEDE"},"gridWidth":{"condition":{"test":"round(datum.value*1000)%25==0","value":3},"value":2},"gridOpacity":{"condition":{"test":"datum.value==0","value":0},"value":1}}},"y2":{"field":"hi"},"stroke":{"field":"season","type":"nominal","scale":{"domain":["Fall","Spring"],"range":["#000000","#FF0000"]},"legend":null}}},
{"mark":{"type":"point","filled":true,"size":560,"opacity":1},"encoding":{"y":{"field":"est","type":"quantitative","scale":{"domain":[0,0.09]},"axis":{"values":[0,0.0125,0.025,0.0375,0.05,0.0625,0.075,0.0875],"labels":false,"ticks":false,"title":null,"domain":false,"gridColor":{"condition":{"test":"round(datum.value*1000)%25==0","value":"#C2C2C2"},"value":"#DEDEDE"},"gridWidth":{"condition":{"test":"round(datum.value*1000)%25==0","value":3},"value":2},"gridOpacity":{"condition":{"test":"datum.value==0","value":0},"value":1}}},"color":{"field":"season","type":"nominal","scale":{"domain":["Fall","Spring"],"range":["#000000","#FF0000"]},"legend":null},"shape":{"field":"season","type":"nominal","scale":{"domain":["Fall","Spring"],"range":["M1,0A1,1,0,1,1,-1,0A1,1,0,1,1,1,0Z M-0.12,-1.45L0.12,-1.45L0.12,1.45L-0.12,1.45Z","M0,-1.555L1.347,0.778L-1.347,0.778Z M-0.12,-1.45L0.12,-1.45L0.12,1.45L-0.12,1.45Z"]},"legend":null}}}]}],
"spacing":1,"bounds":"flush"},

{"vconcat":[{"width":157,"height":66,"data":{"name":"years"},"transform":[{"filter":"datum.year==2012"}],"mark":{"type":"text","fontSize":32,"color":"#1A1A1A"},"encoding":{"text":{"field":"year","type":"nominal"}},"view":{"fill":"#C2C2C2"}},
{"width":157,"height":298,"data":{"name":"est"},"transform":[{"filter":"datum.year==2012"},{"joinaggregate":[{"op":"count","as":"n"}],"groupby":["session"]},{"calculate":"datum.session+(datum.n>1?(datum.season=='Fall'?-0.125:0.125):0)","as":"xpos"}],
"encoding":{"x":{"field":"xpos","type":"quantitative","scale":{"domain":[-0.56,5.56]},"axis":{"values":[0,1,2,3,4,5],"format":"d","title":null,"domain":false,"tickSize":10,"tickWidth":3,"tickColor":"#1A1A1A","labelFontSize":31,"labelColor":"#4D4D4D","labelPadding":6,"labelOverlap":false,"labelFlush":false,"gridColor":"#C2C2C2","gridWidth":3.5}}},
"layer":[{"mark":{"type":"rule","strokeWidth":4,"clip":true},"encoding":{"y":{"field":"lo","type":"quantitative","scale":{"domain":[0,0.09]},"axis":{"values":[0,0.0125,0.025,0.0375,0.05,0.0625,0.075,0.0875],"labels":false,"ticks":false,"title":null,"domain":false,"gridColor":{"condition":{"test":"round(datum.value*1000)%25==0","value":"#C2C2C2"},"value":"#DEDEDE"},"gridWidth":{"condition":{"test":"round(datum.value*1000)%25==0","value":3},"value":2},"gridOpacity":{"condition":{"test":"datum.value==0","value":0},"value":1}}},"y2":{"field":"hi"},"stroke":{"field":"season","type":"nominal","scale":{"domain":["Fall","Spring"],"range":["#000000","#FF0000"]},"legend":null}}},
{"mark":{"type":"point","filled":true,"size":560,"opacity":1},"encoding":{"y":{"field":"est","type":"quantitative","scale":{"domain":[0,0.09]},"axis":{"values":[0,0.0125,0.025,0.0375,0.05,0.0625,0.075,0.0875],"labels":false,"ticks":false,"title":null,"domain":false,"gridColor":{"condition":{"test":"round(datum.value*1000)%25==0","value":"#C2C2C2"},"value":"#DEDEDE"},"gridWidth":{"condition":{"test":"round(datum.value*1000)%25==0","value":3},"value":2},"gridOpacity":{"condition":{"test":"datum.value==0","value":0},"value":1}}},"color":{"field":"season","type":"nominal","scale":{"domain":["Fall","Spring"],"range":["#000000","#FF0000"]},"legend":null},"shape":{"field":"season","type":"nominal","scale":{"domain":["Fall","Spring"],"range":["M1,0A1,1,0,1,1,-1,0A1,1,0,1,1,1,0Z M-0.12,-1.45L0.12,-1.45L0.12,1.45L-0.12,1.45Z","M0,-1.555L1.347,0.778L-1.347,0.778Z M-0.12,-1.45L0.12,-1.45L0.12,1.45L-0.12,1.45Z"]},"legend":null}}}]}],
"spacing":1,"bounds":"flush"},

{"vconcat":[{"width":157,"height":66,"data":{"name":"years"},"transform":[{"filter":"datum.year==2013"}],"mark":{"type":"text","fontSize":32,"color":"#1A1A1A"},"encoding":{"text":{"field":"year","type":"nominal"}},"view":{"fill":"#C2C2C2"}},
{"width":157,"height":298,"data":{"name":"est"},"transform":[{"filter":"datum.year==2013"},{"joinaggregate":[{"op":"count","as":"n"}],"groupby":["session"]},{"calculate":"datum.session+(datum.n>1?(datum.season=='Fall'?-0.125:0.125):0)","as":"xpos"}],
"encoding":{"x":{"field":"xpos","type":"quantitative","scale":{"domain":[-0.56,5.56]},"axis":{"values":[0,1,2,3,4,5],"format":"d","title":null,"domain":false,"tickSize":10,"tickWidth":3,"tickColor":"#1A1A1A","labelFontSize":31,"labelColor":"#4D4D4D","labelPadding":6,"labelOverlap":false,"labelFlush":false,"gridColor":"#C2C2C2","gridWidth":3.5}}},
"layer":[{"mark":{"type":"rule","strokeWidth":4,"clip":true},"encoding":{"y":{"field":"lo","type":"quantitative","scale":{"domain":[0,0.09]},"axis":{"values":[0,0.0125,0.025,0.0375,0.05,0.0625,0.075,0.0875],"labels":false,"ticks":false,"title":null,"domain":false,"gridColor":{"condition":{"test":"round(datum.value*1000)%25==0","value":"#C2C2C2"},"value":"#DEDEDE"},"gridWidth":{"condition":{"test":"round(datum.value*1000)%25==0","value":3},"value":2},"gridOpacity":{"condition":{"test":"datum.value==0","value":0},"value":1}}},"y2":{"field":"hi"},"stroke":{"field":"season","type":"nominal","scale":{"domain":["Fall","Spring"],"range":["#000000","#FF0000"]},"legend":null}}},
{"mark":{"type":"point","filled":true,"size":560,"opacity":1},"encoding":{"y":{"field":"est","type":"quantitative","scale":{"domain":[0,0.09]},"axis":{"values":[0,0.0125,0.025,0.0375,0.05,0.0625,0.075,0.0875],"labels":false,"ticks":false,"title":null,"domain":false,"gridColor":{"condition":{"test":"round(datum.value*1000)%25==0","value":"#C2C2C2"},"value":"#DEDEDE"},"gridWidth":{"condition":{"test":"round(datum.value*1000)%25==0","value":3},"value":2},"gridOpacity":{"condition":{"test":"datum.value==0","value":0},"value":1}}},"color":{"field":"season","type":"nominal","scale":{"domain":["Fall","Spring"],"range":["#000000","#FF0000"]},"legend":null},"shape":{"field":"season","type":"nominal","scale":{"domain":["Fall","Spring"],"range":["M1,0A1,1,0,1,1,-1,0A1,1,0,1,1,1,0Z M-0.12,-1.45L0.12,-1.45L0.12,1.45L-0.12,1.45Z","M0,-1.555L1.347,0.778L-1.347,0.778Z M-0.12,-1.45L0.12,-1.45L0.12,1.45L-0.12,1.45Z"]},"legend":null}}}]}],
"spacing":1,"bounds":"flush"},

{"vconcat":[{"width":157,"height":66,"data":{"name":"years"},"transform":[{"filter":"datum.year==2014"}],"mark":{"type":"text","fontSize":32,"color":"#1A1A1A"},"encoding":{"text":{"field":"year","type":"nominal"}},"view":{"fill":"#C2C2C2"}},
{"width":157,"height":298,"data":{"name":"est"},"transform":[{"filter":"datum.year==2014"},{"joinaggregate":[{"op":"count","as":"n"}],"groupby":["session"]},{"calculate":"datum.session+(datum.n>1?(datum.season=='Fall'?-0.125:0.125):0)","as":"xpos"}],
"encoding":{"x":{"field":"xpos","type":"quantitative","scale":{"domain":[-0.56,5.56]},"axis":{"values":[0,1,2,3,4,5],"format":"d","title":"Session","titleFontSize":41,"titleFontWeight":"normal","titleColor":"#000000","titlePadding":14,"domain":false,"tickSize":10,"tickWidth":3,"tickColor":"#1A1A1A","labelFontSize":31,"labelColor":"#4D4D4D","labelPadding":6,"labelOverlap":false,"labelFlush":false,"gridColor":"#C2C2C2","gridWidth":3.5}}},
"layer":[{"mark":{"type":"rule","strokeWidth":4,"clip":true},"encoding":{"y":{"field":"lo","type":"quantitative","scale":{"domain":[0,0.09]},"axis":{"values":[0,0.0125,0.025,0.0375,0.05,0.0625,0.075,0.0875],"labels":false,"ticks":false,"title":null,"domain":false,"gridColor":{"condition":{"test":"round(datum.value*1000)%25==0","value":"#C2C2C2"},"value":"#DEDEDE"},"gridWidth":{"condition":{"test":"round(datum.value*1000)%25==0","value":3},"value":2},"gridOpacity":{"condition":{"test":"datum.value==0","value":0},"value":1}}},"y2":{"field":"hi"},"stroke":{"field":"season","type":"nominal","scale":{"domain":["Fall","Spring"],"range":["#000000","#FF0000"]},"legend":null}}},
{"mark":{"type":"point","filled":true,"size":560,"opacity":1},"encoding":{"y":{"field":"est","type":"quantitative","scale":{"domain":[0,0.09]},"axis":{"values":[0,0.0125,0.025,0.0375,0.05,0.0625,0.075,0.0875],"labels":false,"ticks":false,"title":null,"domain":false,"gridColor":{"condition":{"test":"round(datum.value*1000)%25==0","value":"#C2C2C2"},"value":"#DEDEDE"},"gridWidth":{"condition":{"test":"round(datum.value*1000)%25==0","value":3},"value":2},"gridOpacity":{"condition":{"test":"datum.value==0","value":0},"value":1}}},"color":{"field":"season","type":"nominal","scale":{"domain":["Fall","Spring"],"range":["#000000","#FF0000"]},"legend":null},"shape":{"field":"season","type":"nominal","scale":{"domain":["Fall","Spring"],"range":["M1,0A1,1,0,1,1,-1,0A1,1,0,1,1,1,0Z M-0.12,-1.45L0.12,-1.45L0.12,1.45L-0.12,1.45Z","M0,-1.555L1.347,0.778L-1.347,0.778Z M-0.12,-1.45L0.12,-1.45L0.12,1.45L-0.12,1.45Z"]},"legend":null}}}]}],
"spacing":1,"bounds":"flush"},

{"vconcat":[{"width":157,"height":66,"data":{"name":"years"},"transform":[{"filter":"datum.year==2015"}],"mark":{"type":"text","fontSize":32,"color":"#1A1A1A"},"encoding":{"text":{"field":"year","type":"nominal"}},"view":{"fill":"#C2C2C2"}},
{"width":157,"height":298,"data":{"name":"est"},"transform":[{"filter":"datum.year==2015"},{"joinaggregate":[{"op":"count","as":"n"}],"groupby":["session"]},{"calculate":"datum.session+(datum.n>1?(datum.season=='Fall'?-0.125:0.125):0)","as":"xpos"}],
"encoding":{"x":{"field":"xpos","type":"quantitative","scale":{"domain":[-0.56,5.56]},"axis":{"values":[0,1,2,3,4,5],"format":"d","title":null,"domain":false,"tickSize":10,"tickWidth":3,"tickColor":"#1A1A1A","labelFontSize":31,"labelColor":"#4D4D4D","labelPadding":6,"labelOverlap":false,"labelFlush":false,"gridColor":"#C2C2C2","gridWidth":3.5}}},
"layer":[{"mark":{"type":"rule","strokeWidth":4,"clip":true},"encoding":{"y":{"field":"lo","type":"quantitative","scale":{"domain":[0,0.09]},"axis":{"values":[0,0.0125,0.025,0.0375,0.05,0.0625,0.075,0.0875],"labels":false,"ticks":false,"title":null,"domain":false,"gridColor":{"condition":{"test":"round(datum.value*1000)%25==0","value":"#C2C2C2"},"value":"#DEDEDE"},"gridWidth":{"condition":{"test":"round(datum.value*1000)%25==0","value":3},"value":2},"gridOpacity":{"condition":{"test":"datum.value==0","value":0},"value":1}}},"y2":{"field":"hi"},"stroke":{"field":"season","type":"nominal","scale":{"domain":["Fall","Spring"],"range":["#000000","#FF0000"]},"legend":null}}},
{"mark":{"type":"point","filled":true,"size":560,"opacity":1},"encoding":{"y":{"field":"est","type":"quantitative","scale":{"domain":[0,0.09]},"axis":{"values":[0,0.0125,0.025,0.0375,0.05,0.0625,0.075,0.0875],"labels":false,"ticks":false,"title":null,"domain":false,"gridColor":{"condition":{"test":"round(datum.value*1000)%25==0","value":"#C2C2C2"},"value":"#DEDEDE"},"gridWidth":{"condition":{"test":"round(datum.value*1000)%25==0","value":3},"value":2},"gridOpacity":{"condition":{"test":"datum.value==0","value":0},"value":1}}},"color":{"field":"season","type":"nominal","scale":{"domain":["Fall","Spring"],"range":["#000000","#FF0000"]},"legend":null},"shape":{"field":"season","type":"nominal","scale":{"domain":["Fall","Spring"],"range":["M1,0A1,1,0,1,1,-1,0A1,1,0,1,1,1,0Z M-0.12,-1.45L0.12,-1.45L0.12,1.45L-0.12,1.45Z","M0,-1.555L1.347,0.778L-1.347,0.778Z M-0.12,-1.45L0.12,-1.45L0.12,1.45L-0.12,1.45Z"]},"legend":null}}}]}],
"spacing":1,"bounds":"flush"},

{"vconcat":[{"width":157,"height":66,"data":{"name":"years"},"transform":[{"filter":"datum.year==2016"}],"mark":{"type":"text","fontSize":32,"color":"#1A1A1A"},"encoding":{"text":{"field":"year","type":"nominal"}},"view":{"fill":"#C2C2C2"}},
{"width":157,"height":298,"data":{"name":"est"},"transform":[{"filter":"datum.year==2016"},{"joinaggregate":[{"op":"count","as":"n"}],"groupby":["session"]},{"calculate":"datum.session+(datum.n>1?(datum.season=='Fall'?-0.125:0.125):0)","as":"xpos"}],
"encoding":{"x":{"field":"xpos","type":"quantitative","scale":{"domain":[-0.56,5.56]},"axis":{"values":[0,1,2,3,4,5],"format":"d","title":null,"domain":false,"tickSize":10,"tickWidth":3,"tickColor":"#1A1A1A","labelFontSize":31,"labelColor":"#4D4D4D","labelPadding":6,"labelOverlap":false,"labelFlush":false,"gridColor":"#C2C2C2","gridWidth":3.5}}},
"layer":[{"mark":{"type":"rule","strokeWidth":4,"clip":true},"encoding":{"y":{"field":"lo","type":"quantitative","scale":{"domain":[0,0.09]},"axis":{"values":[0,0.0125,0.025,0.0375,0.05,0.0625,0.075,0.0875],"labels":false,"ticks":false,"title":null,"domain":false,"gridColor":{"condition":{"test":"round(datum.value*1000)%25==0","value":"#C2C2C2"},"value":"#DEDEDE"},"gridWidth":{"condition":{"test":"round(datum.value*1000)%25==0","value":3},"value":2},"gridOpacity":{"condition":{"test":"datum.value==0","value":0},"value":1}}},"y2":{"field":"hi"},"stroke":{"field":"season","type":"nominal","scale":{"domain":["Fall","Spring"],"range":["#000000","#FF0000"]},"legend":null}}},
{"mark":{"type":"point","filled":true,"size":560,"opacity":1},"encoding":{"y":{"field":"est","type":"quantitative","scale":{"domain":[0,0.09]},"axis":{"values":[0,0.0125,0.025,0.0375,0.05,0.0625,0.075,0.0875],"labels":false,"ticks":false,"title":null,"domain":false,"gridColor":{"condition":{"test":"round(datum.value*1000)%25==0","value":"#C2C2C2"},"value":"#DEDEDE"},"gridWidth":{"condition":{"test":"round(datum.value*1000)%25==0","value":3},"value":2},"gridOpacity":{"condition":{"test":"datum.value==0","value":0},"value":1}}},"color":{"field":"season","type":"nominal","scale":{"domain":["Fall","Spring"],"range":["#000000","#FF0000"]},"legend":null},"shape":{"field":"season","type":"nominal","scale":{"domain":["Fall","Spring"],"range":["M1,0A1,1,0,1,1,-1,0A1,1,0,1,1,1,0Z M-0.12,-1.45L0.12,-1.45L0.12,1.45L-0.12,1.45Z","M0,-1.555L1.347,0.778L-1.347,0.778Z M-0.12,-1.45L0.12,-1.45L0.12,1.45L-0.12,1.45Z"]},"legend":null}}}]}],
"spacing":1,"bounds":"flush"},

{"vconcat":[{"width":157,"height":66,"data":{"name":"years"},"transform":[{"filter":"datum.year==2017"}],"mark":{"type":"text","fontSize":32,"color":"#1A1A1A"},"encoding":{"text":{"field":"year","type":"nominal"}},"view":{"fill":"#C2C2C2"}},
{"width":157,"height":298,"data":{"name":"est"},"transform":[{"filter":"datum.year==2017"},{"joinaggregate":[{"op":"count","as":"n"}],"groupby":["session"]},{"calculate":"datum.session+(datum.n>1?(datum.season=='Fall'?-0.125:0.125):0)","as":"xpos"}],
"encoding":{"x":{"field":"xpos","type":"quantitative","scale":{"domain":[-0.56,5.56]},"axis":{"values":[0,1,2,3,4,5],"format":"d","title":null,"domain":false,"tickSize":10,"tickWidth":3,"tickColor":"#1A1A1A","labelFontSize":31,"labelColor":"#4D4D4D","labelPadding":6,"labelOverlap":false,"labelFlush":false,"gridColor":"#C2C2C2","gridWidth":3.5}}},
"layer":[{"mark":{"type":"rule","strokeWidth":4,"clip":true},"encoding":{"y":{"field":"lo","type":"quantitative","scale":{"domain":[0,0.09]},"axis":{"values":[0,0.0125,0.025,0.0375,0.05,0.0625,0.075,0.0875],"labels":false,"ticks":false,"title":null,"domain":false,"gridColor":{"condition":{"test":"round(datum.value*1000)%25==0","value":"#C2C2C2"},"value":"#DEDEDE"},"gridWidth":{"condition":{"test":"round(datum.value*1000)%25==0","value":3},"value":2},"gridOpacity":{"condition":{"test":"datum.value==0","value":0},"value":1}}},"y2":{"field":"hi"},"stroke":{"field":"season","type":"nominal","scale":{"domain":["Fall","Spring"],"range":["#000000","#FF0000"]},"legend":null}}},
{"mark":{"type":"point","filled":true,"size":560,"opacity":1},"encoding":{"y":{"field":"est","type":"quantitative","scale":{"domain":[0,0.09]},"axis":{"values":[0,0.0125,0.025,0.0375,0.05,0.0625,0.075,0.0875],"labels":false,"ticks":false,"title":null,"domain":false,"gridColor":{"condition":{"test":"round(datum.value*1000)%25==0","value":"#C2C2C2"},"value":"#DEDEDE"},"gridWidth":{"condition":{"test":"round(datum.value*1000)%25==0","value":3},"value":2},"gridOpacity":{"condition":{"test":"datum.value==0","value":0},"value":1}}},"color":{"field":"season","type":"nominal","scale":{"domain":["Fall","Spring"],"range":["#000000","#FF0000"]},"legend":null},"shape":{"field":"season","type":"nominal","scale":{"domain":["Fall","Spring"],"range":["M1,0A1,1,0,1,1,-1,0A1,1,0,1,1,1,0Z M-0.12,-1.45L0.12,-1.45L0.12,1.45L-0.12,1.45Z","M0,-1.555L1.347,0.778L-1.347,0.778Z M-0.12,-1.45L0.12,-1.45L0.12,1.45L-0.12,1.45Z"]},"legend":null}}}]}],
"spacing":1,"bounds":"flush"},

{"vconcat":[{"width":157,"height":66,"data":{"name":"years"},"transform":[{"filter":"datum.year==2018"}],"mark":{"type":"text","fontSize":32,"color":"#1A1A1A"},"encoding":{"text":{"field":"year","type":"nominal"}},"view":{"fill":"#C2C2C2"}},
{"width":157,"height":298,"data":{"name":"est"},"transform":[{"filter":"datum.year==2018"},{"joinaggregate":[{"op":"count","as":"n"}],"groupby":["session"]},{"calculate":"datum.session+(datum.n>1?(datum.season=='Fall'?-0.125:0.125):0)","as":"xpos"}],
"encoding":{"x":{"field":"xpos","type":"quantitative","scale":{"domain":[-0.56,5.56]},"axis":{"values":[0,1,2,3,4,5],"format":"d","title":null,"domain":false,"tickSize":10,"tickWidth":3,"tickColor":"#1A1A1A","labelFontSize":31,"labelColor":"#4D4D4D","labelPadding":6,"labelOverlap":false,"labelFlush":false,"gridColor":"#C2C2C2","gridWidth":3.5}}},
"layer":[{"mark":{"type":"rule","strokeWidth":4,"clip":true},"encoding":{"y":{"field":"lo","type":"quantitative","scale":{"domain":[0,0.09]},"axis":{"values":[0,0.0125,0.025,0.0375,0.05,0.0625,0.075,0.0875],"labels":false,"ticks":false,"title":null,"domain":false,"gridColor":{"condition":{"test":"round(datum.value*1000)%25==0","value":"#C2C2C2"},"value":"#DEDEDE"},"gridWidth":{"condition":{"test":"round(datum.value*1000)%25==0","value":3},"value":2},"gridOpacity":{"condition":{"test":"datum.value==0","value":0},"value":1}}},"y2":{"field":"hi"},"stroke":{"field":"season","type":"nominal","scale":{"domain":["Fall","Spring"],"range":["#000000","#FF0000"]},"legend":null}}},
{"mark":{"type":"point","filled":true,"size":560,"opacity":1},"encoding":{"y":{"field":"est","type":"quantitative","scale":{"domain":[0,0.09]},"axis":{"values":[0,0.0125,0.025,0.0375,0.05,0.0625,0.075,0.0875],"labels":false,"ticks":false,"title":null,"domain":false,"gridColor":{"condition":{"test":"round(datum.value*1000)%25==0","value":"#C2C2C2"},"value":"#DEDEDE"},"gridWidth":{"condition":{"test":"round(datum.value*1000)%25==0","value":3},"value":2},"gridOpacity":{"condition":{"test":"datum.value==0","value":0},"value":1}}},"color":{"field":"season","type":"nominal","scale":{"domain":["Fall","Spring"],"range":["#000000","#FF0000"]},"legend":null},"shape":{"field":"season","type":"nominal","scale":{"domain":["Fall","Spring"],"range":["M1,0A1,1,0,1,1,-1,0A1,1,0,1,1,1,0Z M-0.12,-1.45L0.12,-1.45L0.12,1.45L-0.12,1.45Z","M0,-1.555L1.347,0.778L-1.347,0.778Z M-0.12,-1.45L0.12,-1.45L0.12,1.45L-0.12,1.45Z"]},"legend":null}}}]}],
"spacing":1,"bounds":"flush"}
],
"columns":9,
"spacing":{"row":7.5,"column":20.6},
"resolve":{"legend":{"color":"independent","shape":"independent"}}
}
